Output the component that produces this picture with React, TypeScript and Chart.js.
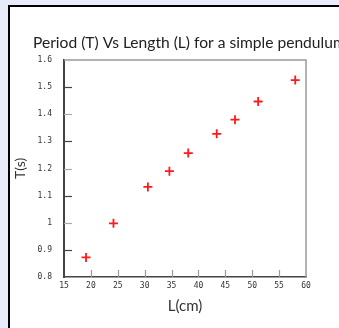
import React, { useEffect, useRef } from "react";
import { Chart, registerables } from "chart.js";

Chart.register(...registerables);

const titleText = "Period (T) Vs Length (L) for a simple pendulum";
const xTitle = "L(cm)";
const yTitle = "T(s)";
const lengths = [19.1, 24.2, 30.6, 34.6, 38.1, 43.4, 46.8, 51.1, 58.0];
const periods = [0.872, 0.998, 1.132, 1.19, 1.257, 1.328, 1.38, 1.447, 1.526];
const xTickValues = [15, 20, 25, 30, 35, 40, 45, 50, 55, 60];
const yTickValues = [0.8, 0.9, 1.0, 1.1, 1.2, 1.3, 1.4, 1.5, 1.6];

const framePlugin = {
  id: "frameTicks",
  afterDatasetsDraw(chart: any) {
    const { ctx, chartArea, scales } = chart;
    const { left, right, top, bottom } = chartArea;
    ctx.save();
    ctx.strokeStyle = "#999";
    ctx.lineWidth = 1.5;
    ctx.beginPath();
    ctx.moveTo(left, top);
    ctx.lineTo(right, top);
    ctx.lineTo(right, bottom);
    ctx.stroke();
    yTickValues.forEach((v, i) => {
      if (i === 0 || i === yTickValues.length - 1) return;
      const y = Math.round(scales.y.getPixelForValue(v)) + 0.5;
      ctx.strokeStyle = i % 2 === 1 ? "#444" : "#aaa";
      ctx.lineWidth = 1.2;
      ctx.beginPath();
      ctx.moveTo(left, y);
      ctx.lineTo(left + 8, y);
      ctx.stroke();
    });
    xTickValues.forEach((v, i) => {
      if (i === 0 || i === xTickValues.length - 1) return;
      const x = Math.round(scales.x.getPixelForValue(v)) + 0.5;
      ctx.strokeStyle = "#999";
      ctx.lineWidth = 1.2;
      ctx.beginPath();
      ctx.moveTo(x, bottom);
      ctx.lineTo(x, bottom - 7);
      ctx.stroke();
    });
    ctx.fillStyle = "#222";
    ctx.font = "15.6px Lato";
    ctx.textAlign = "left";
    ctx.textBaseline = "alphabetic";
    ctx.fillText(titleText, 33, 48);
    ctx.restore();
  },
};

export default function App() {
  const ref = useRef<HTMLCanvasElement | null>(null);
  useEffect(() => {
    if (!ref.current) return;
    const chart = new Chart(ref.current, {
      type: "scatter",
      data: {
        datasets: [
          {
            data: lengths.map((l, i) => ({ x: l, y: periods[i] })),
            pointStyle: "cross",
            radius: 4.5,
            borderColor: "#ff1a1a",
            backgroundColor: "#ff1a1a",
            borderWidth: 1.8,
          },
        ],
      },
      options: {
        responsive: false,
        animation: false,
        layout: { padding: { top: 60, right: 33, left: 0, bottom: 0 } },
        plugins: { legend: { display: false }, tooltip: { enabled: false }, title: { display: false } },
        scales: {
          x: {
            type: "linear",
            min: 15,
            max: 60,
            afterBuildTicks: (s: any) => {
              s.ticks = xTickValues.map((v) => ({ value: v }));
            },
            afterFit: (s: any) => {
              s.height = 51;
            },
            grid: { display: false, drawTicks: false },
            border: { display: true, color: "#444", width: 1.5 },
            ticks: {
              padding: 4,
              color: "#333",
              font: { family: "DejaVu Sans Mono", size: 8 },
              maxRotation: 0,
              callback: (v: any) => String(v),
            },
            title: {
              display: true,
              text: xTitle,
              color: "#333",
              font: { family: "Lato", size: 15 },
              padding: { top: 0, bottom: 13 },
            },
          },
          y: {
            type: "linear",
            min: 0.8,
            max: 1.6,
            afterBuildTicks: (s: any) => {
              s.ticks = yTickValues.map((v) => ({ value: v }));
            },
            afterFit: (s: any) => {
              s.width = 64;
            },
            grid: { display: false, drawTicks: false },
            border: { display: true, color: "#444", width: 2 },
            ticks: {
              padding: 12,
              color: "#333",
              font: { family: "DejaVu Sans Mono", size: 8 },
              callback: (v: any) => String(Math.round(Number(v) * 10) / 10),
            },
            title: {
              display: true,
              text: yTitle,
              color: "#333",
              font: { family: "Lato", size: 14 },
              padding: { top: 11.6, bottom: 0 },
            },
          },
        },
      },
      plugins: [framePlugin],
    });
    return () => chart.destroy();
  }, []);
  return (
    <div style={{ position: "fixed", left: 0, top: 0, width: 339, height: 328, background: "#e8ebfa", overflow: "hidden" }}>
      <div
        style={{
          position: "absolute",
          left: 8,
          top: 5,
          width: 400,
          height: 400,
          background: "#fff",
          borderLeft: "2px solid #000",
          borderTop: "2px solid #000",
        }}
      />
      <canvas ref={ref} width={339} height={328} style={{ position: "absolute", left: 0, top: 0, width: 339, height: 328 }} />
    </div>
  );
}
